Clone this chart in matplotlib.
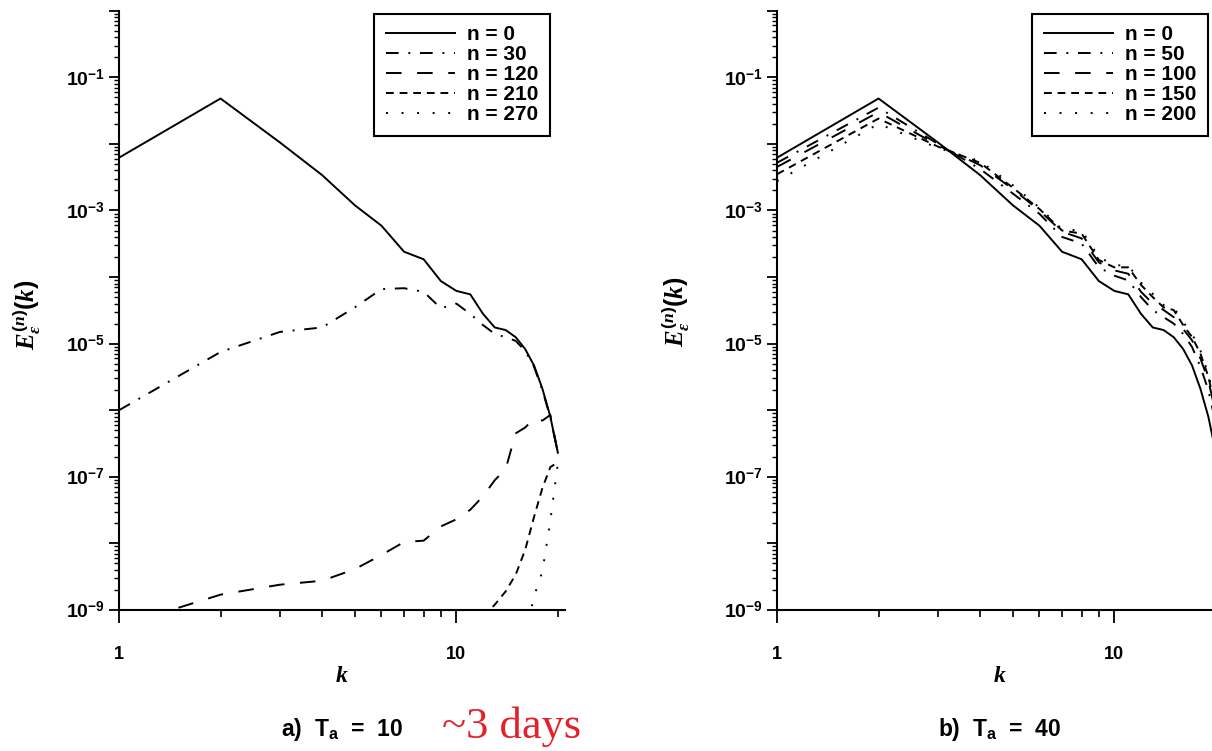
import matplotlib
matplotlib.use('Agg')
import matplotlib.pyplot as plt
import matplotlib.ticker as ticker
import numpy as np

plt.rcParams['font.family'] = ['Liberation Sans', 'DejaVu Sans']
plt.rcParams['font.weight'] = 'bold'
plt.rcParams['mathtext.fontset'] = 'custom'
plt.rcParams['mathtext.rm'] = 'Liberation Sans:bold'
plt.rcParams['mathtext.bf'] = 'Liberation Sans:bold'
plt.rcParams['mathtext.it'] = 'Liberation Serif:italic:bold'

# wavenumbers
k = list(range(1, 21))

# initial spectrum (same in both panels)
n0 = [6.2e-3, 4.8e-2, 1.05e-2, 3.4e-3, 1.2e-3, 5.9e-4, 2.4e-4, 1.85e-4, 8.7e-5, 6.2e-5,
      5.5e-5, 2.8e-5, 1.75e-5, 1.6e-5, 1.25e-5, 8.3e-6, 4.7e-6, 2.1e-6, 8.0e-7, 2.3e-7]

# panel a) T_a = 10
a_n30 = [1.0e-6, 7.5e-6, 1.5e-5, 1.75e-5, 3.5e-5, 6.6e-5, 6.8e-5, 6.0e-5, 3.4e-5, 4.0e-5,
         2.8e-5, 1.9e-5, 1.4e-5, 1.25e-5, 1.1e-5, 7.8e-6, 4.5e-6, 2.0e-6, 7.8e-7, 2.3e-7]
a_n120 = [5.7e-10, 1.7e-9, 2.4e-9, 2.75e-9, 4.1e-9, 6.7e-9, 1.05e-8, 1.1e-8, 1.8e-8, 2.3e-8,
          3.2e-8, 5.1e-8, 8.9e-8, 1.3e-7, 4.5e-7, 5.5e-7, 7.5e-7, 7.0e-7, 8.5e-7, 2.3e-7]
k_n210 = [12, 13, 14, 15, 16, 17, 18, 19, 20]
a_n210 = [8.0e-10, 1.2e-9, 1.9e-9, 3.4e-9, 8.0e-9, 2.5e-8, 6.8e-8, 1.4e-7, 1.65e-7]
k_n270 = [16, 17, 18, 19, 20]
a_n270 = [4.0e-10, 1.6e-9, 3.8e-9, 2.2e-8, 1.6e-7]

# panel b) T_a = 40
b_n50 = [5.2e-3, 3.5e-2, 1.0e-2, 4.2e-3, 1.8e-3, 8.9e-4, 4.0e-4, 3.2e-4, 1.4e-4, 1.05e-4,
         8.9e-5, 5.0e-5, 3.2e-5, 2.5e-5, 2.0e-5, 1.4e-5, 8.9e-6, 4.5e-6, 2.0e-6, 6.3e-7]
b_n100 = [4.5e-3, 3.0e-2, 9.5e-3, 4.8e-3, 2.1e-3, 1.0e-3, 4.8e-4, 3.8e-4, 1.66e-4, 1.26e-4,
          1.12e-4, 6.0e-5, 4.0e-5, 3.2e-5, 2.5e-5, 1.66e-5, 1.12e-5, 6.0e-6, 2.8e-6, 8.9e-7]
b_n150 = [3.5e-3, 2.4e-2, 9.1e-3, 5.2e-3, 2.2e-3, 1.05e-3, 5.0e-4, 4.5e-4, 1.8e-4, 1.4e-4,
          1.4e-4, 7.6e-5, 5.0e-5, 3.5e-5, 3.2e-5, 1.9e-5, 1.26e-5, 7.1e-6, 3.2e-6, 1.0e-6]
b_n200 = [2.75e-3, 2.0e-2, 8.7e-3, 5.5e-3, 2.4e-3, 1.1e-3, 5.2e-4, 5.0e-4, 2.0e-4, 1.5e-4,
          1.5e-4, 8.3e-5, 5.6e-5, 3.8e-5, 3.5e-5, 2.1e-5, 1.4e-5, 7.9e-6, 3.5e-6, 1.1e-6]

solid = '-'
dashdot = (0, (6.5, 5, 1, 5))
longdash = (0, (8, 8))
shortdash = (0, (4, 3))
dots = (0, (1, 7))

fig = plt.figure(figsize=(12.12, 7.51), dpi=100)
fig.patch.set_facecolor('white')

W, H = 1212.0, 751.0
ax_w = 446 / W
ax_h = 599.3 / H
ax_b = 1 - 610 / H
axa = fig.add_axes([119 / W, ax_b, ax_w, ax_h])
axb = fig.add_axes([777 / W, ax_b, ax_w, ax_h])

axa.plot(k, n0, color='black', lw=1.4, ls=solid, label='n = 0')
axa.plot(k, a_n30, color='black', lw=1.4, ls=dashdot, label='n = 30')
axa.plot(k, a_n120, color='black', lw=1.4, ls=longdash, label='n = 120')
axa.plot(k_n210, a_n210, color='black', lw=1.4, ls=shortdash, label='n = 210')
axa.plot(k_n270, a_n270, color='black', lw=1.4, ls=dots, label='n = 270')

axb.plot(k, n0, color='black', lw=1.4, ls=solid, label='n = 0')
axb.plot(k, b_n50, color='black', lw=1.4, ls=dashdot, label='n = 50')
axb.plot(k, b_n100, color='black', lw=1.4, ls=longdash, label='n = 100')
axb.plot(k, b_n150, color='black', lw=1.4, ls=shortdash, label='n = 150')
axb.plot(k, b_n200, color='black', lw=1.4, ls=dots, label='n = 200')

ylabels = []
for e in range(-9, 1):
    ylabels.append('$10^{%d}$' % e if e % 2 else '')

for ax, title in [(axa, r'a)  T$_\mathregular{a}$  =  10'), (axb, r'b)  T$_\mathregular{a}$  =  40')]:
    ax.set_xscale('log')
    ax.set_yscale('log')
    ax.set_xlim(1, 21)
    ax.set_ylim(1e-9, 1)
    ax.spines['top'].set_visible(False)
    ax.spines['right'].set_visible(False)
    ax.spines['left'].set_linewidth(1.5)
    ax.spines['bottom'].set_linewidth(1.5)

    ax.xaxis.set_major_locator(ticker.FixedLocator([1, 10]))
    ax.xaxis.set_major_formatter(ticker.FixedFormatter(['1', '10']))
    ax.xaxis.set_minor_locator(ticker.FixedLocator([2, 3, 4, 5, 6, 7, 8, 9, 20]))
    ax.xaxis.set_minor_formatter(ticker.NullFormatter())
    ax.yaxis.set_major_locator(ticker.FixedLocator(10.0 ** np.arange(-9, 1)))
    ax.yaxis.set_major_formatter(ticker.FixedFormatter(ylabels))
    ax.yaxis.set_minor_locator(ticker.LogLocator(base=10, subs=range(2, 10), numticks=30))
    ax.yaxis.set_minor_formatter(ticker.NullFormatter())

    ax.tick_params(axis='x', which='major', direction='out', length=9, width=1.3,
                   pad=17, labelsize=13)
    ax.tick_params(axis='x', which='minor', direction='out', length=5, width=1.2)
    ax.tick_params(axis='y', which='major', direction='out', length=7, width=1.3,
                   pad=3, labelsize=14)
    ax.tick_params(axis='y', which='minor', direction='out', length=3.5, width=1.0)

    leg = ax.legend(loc='upper right', bbox_to_anchor=(0.966, 0.995), frameon=True,
                    fancybox=False, edgecolor='black', framealpha=1, fontsize=15,
                    handlelength=3.3, handletextpad=0.6, labelspacing=0.05,
                    borderpad=0.55, borderaxespad=0)
    leg.get_frame().set_linewidth(1.5)

    ax.text(0.5, -0.11, '$k$', transform=ax.transAxes, ha='center', va='center', fontsize=17)
    ax.text(0.5, -0.21, title, transform=ax.transAxes, ha='center', va='baseline', fontsize=16.5)

fig.text(27 / W, 1 - 315 / H, r'$E_{\varepsilon}^{(n)}(k)$', rotation=90,
         ha='center', va='center', fontsize=18)
fig.text(676 / W, 1 - 312 / H, r'$E_{\varepsilon}^{(n)}(k)$', rotation=90,
         ha='center', va='center', fontsize=18)

fig.text(512 / W, 1 - 738 / H, '~3 days', color='#e3212b', family='Liberation Serif',
         fontweight='normal', fontsize=32, ha='center', va='baseline')

fig.savefig('out.png', dpi=100)
